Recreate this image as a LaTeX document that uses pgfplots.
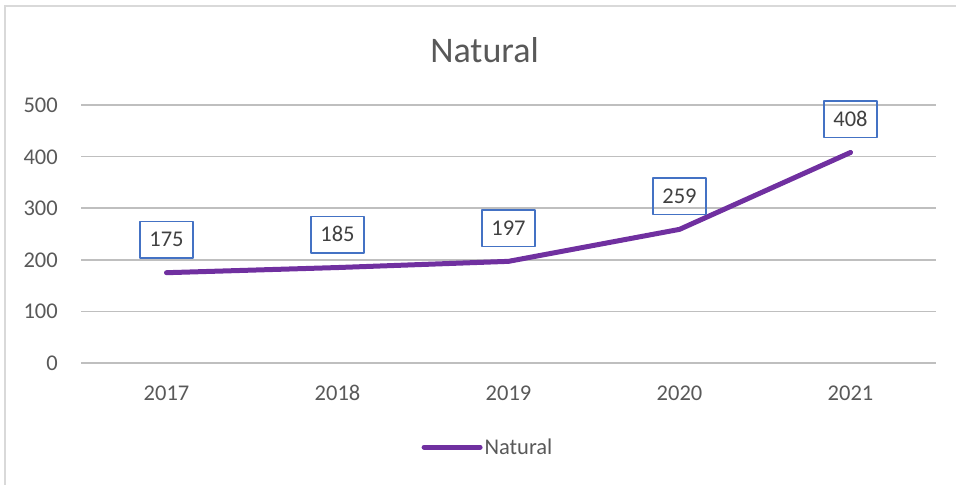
\documentclass[border=0pt]{standalone}
\usepackage{fontspec}
\setmainfont{Carlito}
\usepackage{pgfplots}
\pgfplotsset{compat=1.18}
\definecolor{txt}{HTML}{595959}
\definecolor{lbl}{HTML}{404040}
\definecolor{grid}{HTML}{D9D9D9}
\definecolor{linec}{HTML}{7030A0}
\definecolor{boxc}{HTML}{4472C4}
\begin{document}
\begin{tikzpicture}[x=1bp,y=1bp]
\useasboundingbox (0,0) rectangle (956,-485);
\draw[grid, line width=2bp] (5,-485) -- (5,-6) -- (956,-6);
\node[txt, anchor=base, inner sep=0pt, font=\fontsize{36bp}{43bp}\selectfont] at (484.5,-62.7) {Natural};
\begin{axis}[
  at={(81bp,-363bp)}, anchor=south west,
  scale only axis, width=855bp, height=258bp,
  xmin=-0.5, xmax=4.5, ymin=0, ymax=500,
  xtick={0,1,2,3,4}, xticklabels={2017,2018,2019,2020,2021},
  ytick={0,100,200,300,400,500},
  axis line style={draw=none},
  major tick length=0pt, tick style={draw=none},
  xmajorgrids=false, ymajorgrids=true, grid style={grid, line width=1.5bp},
  tick label style={txt, font=\fontsize{22.5bp}{27bp}\selectfont, inner sep=0pt, text height=15bp, text depth=0pt},
  /pgf/number format/assume math mode=true,
  yticklabel style={anchor=east, xshift=-23bp},
  xticklabel style={anchor=north, yshift=-22bp},
  clip=false,
  legend style={at={(0.476,-0.326)}, anchor=center, draw=none, fill=none,
    text=txt, font=\fontsize{22.5bp}{27bp}\selectfont, inner sep=0pt,
    legend cell align=left},
  legend image code/.code={\draw[#1, line cap=round] (0bp,0bp) -- (56bp,0bp);},
  nodes near coords,
  every node near coord/.append style={anchor=center, yshift=33bp, draw=boxc, line width=1.5bp,
     text=lbl, font=\fontsize{22.5bp}{27bp}\selectfont, inner xsep=9.5bp, inner ysep=11bp,
     text height=14.5bp, text depth=0pt},
]
\addplot[linec, line width=5bp, line cap=round, line join=round, mark=none] coordinates {
  (0,175) (1,185) (2,197) (3,259) (4,408)
};
\addlegendentry{Natural}
\end{axis}
\end{tikzpicture}
\end{document}
